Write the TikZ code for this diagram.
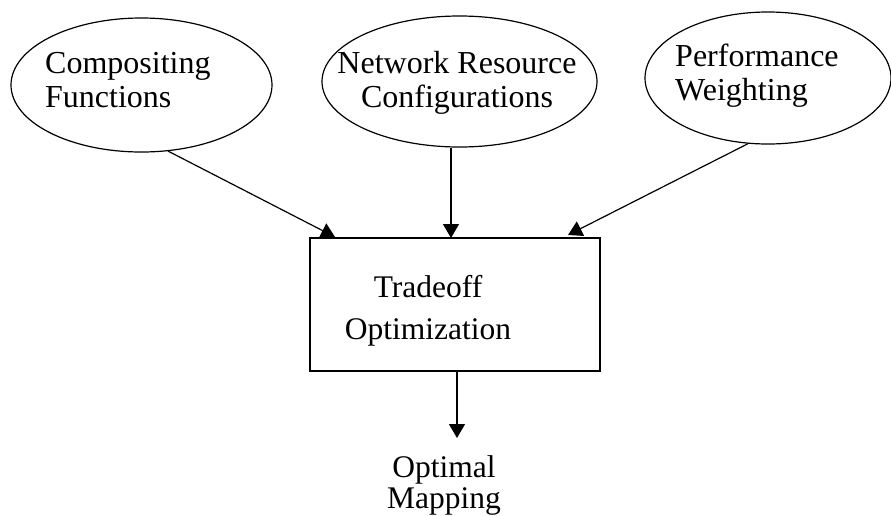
\documentclass[tikz,border=0pt]{standalone}
\usepackage{fontspec}
\setmainfont{Liberation Serif}
\usetikzlibrary{shapes.geometric,arrows.meta}
\begin{document}
\begin{tikzpicture}[x=1pt,y=-1pt,
  oval/.style={draw, ellipse, line width=1.2pt, inner sep=0pt},
  box/.style={draw, rectangle, line width=1.2pt, inner sep=0pt},
  lbl/.style={font=\fontsize{32}{34}\selectfont, inner sep=0pt},
  lblb/.style={font=\fontsize{31.5}{42}\selectfont, inner sep=0pt},
  arr/.style={-{Triangle[length=14pt,width=16pt]}, line width=1.2pt}]
\useasboundingbox (0,0) rectangle (891,515);
% ellipses
\node[oval, minimum width=261pt, minimum height=134pt] (e1) at (141.5,85) {};
\node[oval, minimum width=275pt, minimum height=131pt] (e2) at (459.5,81.5) {};
\node[oval, minimum width=246pt, minimum height=132pt] (e3) at (768,78) {};
% ellipse labels (base anchor = baseline of last line)
\node[lbl, anchor=base west, align=left] (l1) at (45,107) {Compositing\\Functions};
\node[lbl, anchor=base, align=center] (l2) at (457,107) {Network Resource\\Configurations};
\node[lbl, anchor=base west, align=left] (l3) at (675,100) {Performance\\Weighting};
% box
\node[box, minimum width=290pt, minimum height=133pt] (bx) at (455,304.5) {};
\node[lblb, anchor=base, align=center] (lb) at (428,339) {Tradeoff\\Optimization};
% output label
\node[font=\fontsize{31.5}{31}\selectfont, inner sep=0pt, anchor=base, align=center] (out) at (444,508) {Optimal\\Mapping};
% arrow end points
\coordinate (t1) at (335,237);
\coordinate (t2) at (451,238);
\coordinate (t3) at (568,235);
\coordinate (t4) at (457,438);
\draw[arr] (e1.-68) -- (t1);
\draw[arr] (e2.south -| t2) -- (t2);
\draw[arr] (e3.-107.6) -- (t3);
\draw[arr] (bx.south -| t4) -- (t4);
\end{tikzpicture}
\end{document}
